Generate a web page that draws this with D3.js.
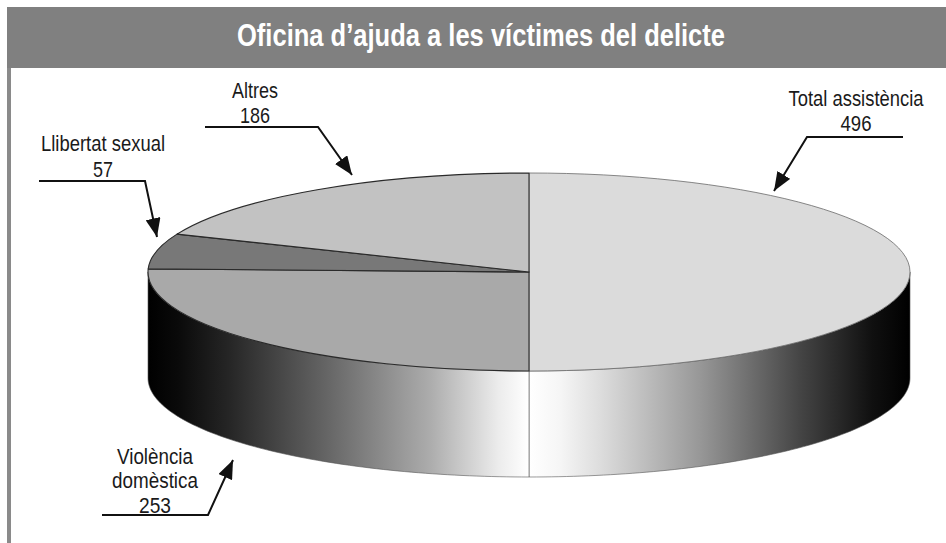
<!DOCTYPE html>
<html>
<head>
<meta charset="utf-8">
<script src="https://cdn.jsdelivr.net/npm/d3@7/dist/d3.min.js"></script>
<style>
  html, body { margin: 0; padding: 0; background: #fff; }
  svg { display: block; }
</style>
</head>
<body>
<svg id="chart" width="946" height="543"></svg>
<script>
// ---- data ----
const title = "Oficina d\u2019ajuda a les víctimes del delicte";
const categories = ["Total assistència", "Violència domèstica", "Llibertat sexual", "Altres"];
const values = [496, 253, 57, 186];
const labelLines = [["Total assistència", "496"], ["Violència", "domèstica", "253"], ["Llibertat sexual", "57"], ["Altres", "186"]];

// ---- layout / style ----
const W = 946, H = 543;
const cx = 529, cy = 272, rx = 381, ry = 99, depth = 106;
const topColors = ["#dbdbdb", "#a9a9a9", "#787878", "#c2c2c2"];
const fontFam = "'Liberation Sans Narrow', 'Liberation Sans', Arial, sans-serif";

// label layout: text lines (center x, baselines, widths) and leader path
const labelLayout = [
  { x: 856, ys: [106, 131], ws: [135, 31], path: [[903,137],[807,137],[774,191]] },
  { x: 155, ys: [464, 488, 513], ws: [76, 86, 32], path: [[102,515],[208,515],[233,460]] },
  { x: 103, ys: [151, 177], ws: [124, 20], path: [[39,181],[145,181],[157,237]] },
  { x: 255, ys: [98, 123], ws: [46, 30], path: [[205,127],[318,127],[352,175]] }
];

const svg = d3.select("#chart");
const defs = svg.append("defs");

// frame
svg.append("rect").attr("x", 7).attr("y", 7).attr("width", W - 7).attr("height", 61).attr("fill", "#808080");
svg.append("rect").attr("x", 7).attr("y", 68).attr("width", 4).attr("height", H - 68).attr("fill", "#8a8a8a");

svg.append("text")
  .attr("x", 237).attr("y", 46)
  .attr("fill", "#fff")
  .attr("font-family", fontFam)
  .attr("font-weight", "bold")
  .attr("font-size", 31)
  .attr("textLength", 488)
  .attr("lengthAdjust", "spacingAndGlyphs")
  .text(title);

// pie
const pie = d3.pie().sort(null).value(d => d);
const arcs = pie(values);

// angle -> ellipse coordinates
const px = a => cx + rx * Math.sin(a);
const py = (a, off) => cy - ry * Math.cos(a) + (off || 0);

// gradients for sides
const gradSpecs = {
  left: { x1: cx - rx, x2: cx, stops: [[0, "#000"], [0.08, "#0a0a0a"], [0.215, "#262626"], [0.48, "#686868"], [0.74, "#acacac"], [0.92, "#ececec"], [1, "#ffffff"]] },
  right: { x1: cx, x2: cx + rx, stops: [[0, "#ffffff"], [0.08, "#f6f6f6"], [0.19, "#dcdcdc"], [0.45, "#979797"], [0.71, "#454545"], [0.9, "#101010"], [1, "#000"]] }
};
Object.entries(gradSpecs).forEach(([id, g]) => {
  const lg = defs.append("linearGradient").attr("id", "g-" + id)
    .attr("gradientUnits", "userSpaceOnUse")
    .attr("x1", g.x1).attr("x2", g.x2).attr("y1", 0).attr("y2", 0);
  g.stops.forEach(s => lg.append("stop").attr("offset", s[0]).attr("stop-color", s[1]));
});

// sides (front half: angles between PI/2 and 3PI/2)
const sideG = svg.append("g");
arcs.forEach((d, i) => {
  const a0 = Math.max(d.startAngle, Math.PI / 2);
  const a1 = Math.min(d.endAngle, 3 * Math.PI / 2);
  if (a1 <= a0) return;
  const n = 80;
  const angles = d3.range(n + 1).map(k => a0 + (a1 - a0) * k / n);
  const pts = angles.map(a => [px(a), py(a)])
    .concat(angles.slice().reverse().map(a => [px(a), py(a, depth)]));
  const midX = px((a0 + a1) / 2);
  sideG.append("path")
    .attr("d", d3.line()(pts) + "Z")
    .attr("fill", midX < cx ? "url(#g-left)" : "url(#g-right)")
    .attr("stroke", "#555")
    .attr("stroke-width", 0.6);
});

// top faces
const arcGen = d3.arc().innerRadius(0).outerRadius(rx);
const topG = svg.append("g").attr("transform", `translate(${cx},${cy}) scale(1,${ry / rx})`);
topG.selectAll("path").data(arcs).join("path")
  .attr("d", arcGen)
  .attr("fill", (d, i) => topColors[i])
  .attr("stroke", (d, i) => i === 0 ? "#6a6a6a" : "#2a2a2a")
  .attr("stroke-width", (d, i) => i === 0 ? 0.8 : 1.1)
  .attr("vector-effect", "non-scaling-stroke")
  .attr("stroke-linejoin", "round");

// arrow marker
defs.append("marker").attr("id", "arrow")
  .attr("viewBox", "0 0 20 16")
  .attr("refX", 20).attr("refY", 8)
  .attr("markerWidth", 19).attr("markerHeight", 15)
  .attr("markerUnits", "userSpaceOnUse")
  .attr("orient", "auto")
  .append("path").attr("d", "M0,0 L20,8 L0,16 Z").attr("fill", "#111");

// labels
const labG = svg.append("g");
labelLayout.forEach((L, i) => {
  labelLines[i].forEach((t, j) => {
    labG.append("text")
      .attr("x", L.x).attr("y", L.ys[j])
      .attr("text-anchor", "middle")
      .attr("font-family", fontFam)
      .attr("font-size", 22)
      .attr("fill", "#1a1a1a")
      .attr("textLength", L.ws[j])
      .attr("lengthAdjust", "spacingAndGlyphs")
      .text(t);
  });
  labG.append("path")
    .attr("d", d3.line()(L.path))
    .attr("fill", "none")
    .attr("stroke", "#111")
    .attr("stroke-width", 2)
    .attr("marker-end", "url(#arrow)");
});
</script>
</body>
</html>
